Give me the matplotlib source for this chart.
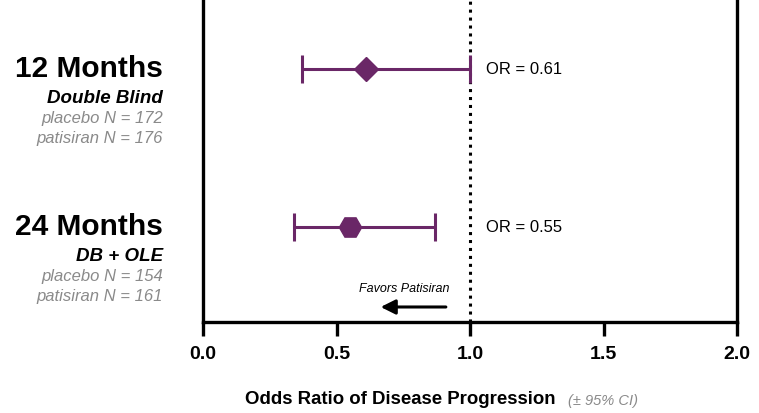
import numpy as np
import matplotlib.pyplot as plt
import matplotlib.transforms as mtransforms

plt.rcParams['font.family'] = ['Liberation Sans', 'DejaVu Sans']

# data
periods = ['12 Months', '24 Months']
subtitles = ['Double Blind', 'DB + OLE']
placebo_n = [172, 154]
patisiran_n = [176, 161]
odds_ratio = [0.61, 0.55]
ci_low = [0.37, 0.34]
ci_high = [1.00, 0.87]
markers = ['D', 'H']
marker_sizes = [12, 16]
xticks = [0.0, 0.5, 1.0, 1.5, 2.0]

purple = '#6a2767'

fig = plt.figure(figsize=(7.59, 4.13), dpi=100)
ax = fig.add_axes([203 / 759, 1 - 322 / 413, (737 - 203) / 759, 322 / 413])

rows = np.arange(len(periods))
for i in rows:
    err = [[odds_ratio[i] - ci_low[i]], [ci_high[i] - odds_ratio[i]]]
    ax.errorbar(odds_ratio[i], i, xerr=err, fmt=markers[i], color=purple,
                ms=marker_sizes[i], elinewidth=2.2, capsize=10, capthick=2.2, zorder=3)
    ax.text(1.06, i, 'OR = %.2f' % odds_ratio[i], fontsize=12, va='center', ha='left')

ax.axvline(1.0, color='black', ls=(0, (1, 1.6)), lw=2.2, zorder=2)

ax.set_xlim(0, 2.0)
ax.set_ylim(1.601, -0.437)
ax.set_xticks(xticks)
ax.set_xticklabels(['%.1f' % t for t in xticks], fontsize=14, fontweight='bold')
ax.set_yticks([])
ax.tick_params(axis='x', length=10, width=2.4, pad=7)
ax.spines['top'].set_visible(False)
for s in ['left', 'right', 'bottom']:
    ax.spines[s].set_linewidth(2.4)

# favors arrow
ax.annotate('', xy=(0.655, 1.506), xytext=(0.92, 1.506),
            arrowprops=dict(arrowstyle='-|>', color='black', lw=2.2, mutation_scale=22))
ax.text(0.755, 1.39, 'Favors Patisiran', fontsize=9, style='italic', ha='center', va='center')

# left side labels
trans = mtransforms.blended_transform_factory(fig.transFigure, ax.transData)
xl = 163 / 759
for i in rows:
    ax.text(xl, i, periods[i], transform=trans, ha='right', va='center',
            fontsize=21.5, fontweight='bold', clip_on=False)
    ax.text(xl, i + 29 / 158, subtitles[i], transform=trans, ha='right', va='center',
            fontsize=13.5, fontweight='bold', style='italic', clip_on=False)
    ax.text(xl, i + 49 / 158, 'placebo N = %d' % placebo_n[i], transform=trans, ha='right',
            va='center', fontsize=12, style='italic', color='#8a8a8a', clip_on=False)
    ax.text(xl, i + 69 / 158, 'patisiran N = %d' % patisiran_n[i], transform=trans, ha='right',
            va='center', fontsize=12, style='italic', color='#8a8a8a', clip_on=False)

fig.text(245 / 759, 1 - 400 / 413, 'Odds Ratio of Disease Progression', fontsize=13.4,
         fontweight='bold', ha='left', va='center')
fig.text(568 / 759, 1 - 401 / 413, '(± 95% CI)', fontsize=10.5, style='italic',
         color='#8a8a8a', ha='left', va='center')

fig.savefig('out.png', dpi=100)
